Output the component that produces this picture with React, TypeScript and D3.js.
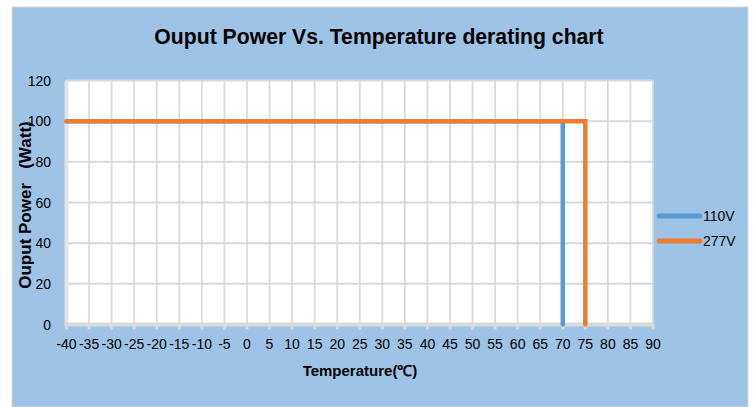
import React from "react";
import * as d3 from "d3";

const temps110 = [-40, 70, 70];
const power110 = [100, 100, 0];
const temps277 = [-40, 75, 75];
const power277 = [100, 100, 0];
const xTicks = [-40, -35, -30, -25, -20, -15, -10, -5, 0, 5, 10, 15, 20, 25, 30, 35, 40, 45, 50, 55, 60, 65, 70, 75, 80, 85, 90];
const yTicks = [0, 20, 40, 60, 80, 100, 120];
const seriesNames = ["110V", "277V"];
const seriesColors = ["#5B9BD5", "#ED7D31"];

export default function App() {
  const W = 755, H = 407;
  const x = d3.scaleLinear().domain([-40, 90]).range([66.5, 653]);
  const y = d3.scaleLinear().domain([0, 120]).range([324.5, 80.5]);
  const line = d3.line<[number, number]>().x(d => x(d[0])).y(d => y(d[1]));
  const series = [
    temps110.map((t, i) => [t, power110[i]] as [number, number]),
    temps277.map((t, i) => [t, power277[i]] as [number, number]),
  ];
  const font = "Arial, 'Liberation Sans', sans-serif";
  return (
    <svg width={W} height={H} style={{ position: "absolute", left: 0, top: 0 }}>
      <rect x={0} y={0} width={W} height={H} fill="#fff" />
      <rect x={12} y={7} width={736} height={400} fill="#9DC3E6" stroke="#d9d9d9" strokeWidth={1} />
      <text x={379} y={44} textAnchor="middle" fontFamily={font} fontWeight="bold" fontSize={21.2} fill="#000">
        Ouput Power Vs. Temperature derating chart
      </text>
      <rect x={x(-40)} y={y(120)} width={x(90) - x(-40)} height={y(0) - y(120)} fill="#fff" />
      {xTicks.map(t => (
        <line key={"vx" + t} x1={x(t)} x2={x(t)} y1={y(120)} y2={y(0)} stroke="#d9d9d9" strokeWidth={1.75} />
      ))}
      {yTicks.map(t => (
        <line key={"hy" + t} x1={x(-40)} x2={x(90)} y1={y(t)} y2={y(t)} stroke="#d9d9d9" strokeWidth={2} />
      ))}
      {xTicks.map(t => (
        <line key={"tk" + t} x1={x(t)} x2={x(t)} y1={y(0)} y2={y(0) + 5} stroke="#d9d9d9" strokeWidth={3} />
      ))}
      <line x1={x(-40)} x2={x(-40)} y1={y(120)} y2={y(0)} stroke="#e3e3e3" strokeWidth={4} />
      <line x1={x(-40) - 2} x2={x(90) + 1} y1={y(0)} y2={y(0)} stroke="#d9d9d9" strokeWidth={4} />
      {series.map((s, i) => (
        <path key={"s" + i} d={line(s) || ""} fill="none" stroke={seriesColors[i]} strokeWidth={4.5} strokeLinecap="round" strokeLinejoin="miter" />
      ))}
      {yTicks.map(t => (
        <text key={"yl" + t} x={51} y={y(t) + 5} textAnchor="end" fontFamily={font} fontSize={14} fill="#000">{t}</text>
      ))}
      {xTicks.map(t => (
        <text key={"xl" + t} x={x(t)} y={348.5} textAnchor="middle" fontFamily={font} fontSize={14} fill="#000">{t}</text>
      ))}
      <text x={360} y={376} textAnchor="middle" fontFamily={font} fontWeight="bold" fontSize={15} fill="#000">Temperature(℃)</text>
      <text transform={`translate(30.5,205) rotate(-90)`} textAnchor="middle" fontFamily={font} fontWeight="bold" fontSize={17} fill="#000" style={{ whiteSpace: "pre" }}>
        {"Ouput Power   (Watt)"}
      </text>
      {seriesNames.map((n, i) => (
        <g key={"lg" + i}>
          <line x1={659} x2={700} y1={216 + i * 25} y2={216 + i * 25} stroke={seriesColors[i]} strokeWidth={5} strokeLinecap="round" />
          <text x={703} y={221 + i * 25} fontFamily={font} fontSize={14} fill="#000">{n}</text>
        </g>
      ))}
    </svg>
  );
}
